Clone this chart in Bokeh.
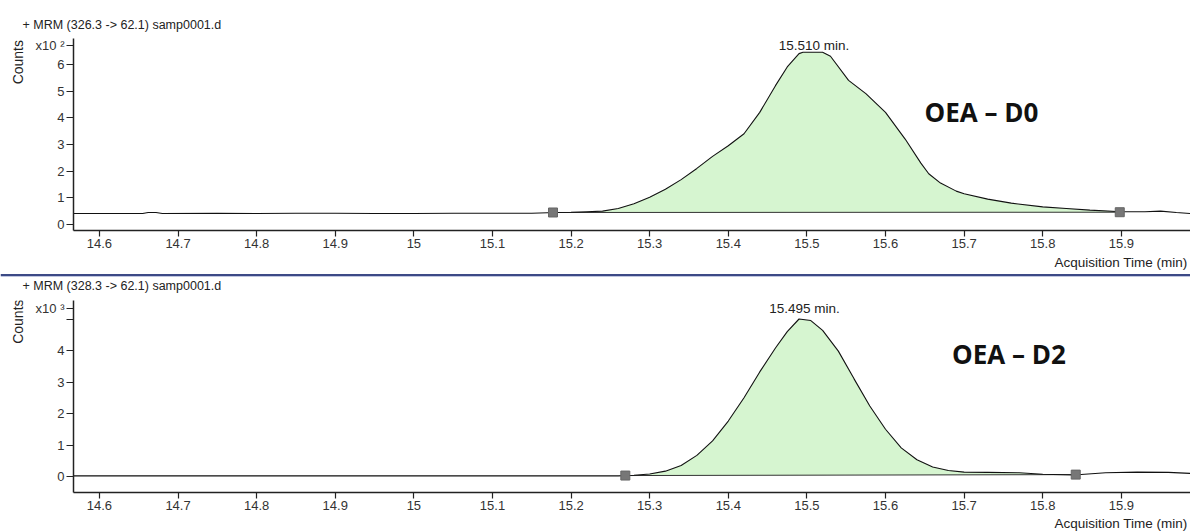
import numpy as np
from bokeh.plotting import figure
from bokeh.models import Range1d, FixedTicker, Label, Span
from bokeh.layouts import column, row
from bokeh.core.properties import value
from bokeh.embed import file_html
from bokeh.resources import INLINE

# ---------------- data ----------------
x_ticks = [14.6, 14.7, 14.8, 14.9, 15.0, 15.1, 15.2, 15.3, 15.4, 15.5, 15.6, 15.7, 15.8, 15.9]
x_tick_labels = ["14.6", "14.7", "14.8", "14.9", "15", "15.1", "15.2", "15.3", "15.4", "15.5",
                 "15.6", "15.7", "15.8", "15.9"]

# Panel 1: MRM (326.3 -> 62.1), counts x10^2
d0_header = "+ MRM (326.3 -> 62.1) samp0001.d"
d0_yticks = [0, 1, 2, 3, 4, 5, 6, 6.70]
d0_ytick_labels = ["0", "1", "2", "3", "4", "5", "6", "x10 ²"]
d0_time = [14.567, 14.62, 14.655, 14.662, 14.672, 14.68, 14.75, 14.8, 14.85, 14.9, 14.95, 15.0,
           15.05, 15.1, 15.15, 15.18, 15.2, 15.22, 15.24, 15.26, 15.28, 15.3, 15.32, 15.34, 15.36,
           15.38, 15.4, 15.42, 15.44, 15.46, 15.475, 15.49, 15.495, 15.52, 15.53, 15.553, 15.575,
           15.6, 15.625, 15.645, 15.655, 15.67, 15.69, 15.7, 15.73, 15.76, 15.8, 15.83, 15.86,
           15.9, 15.93, 15.95, 15.97, 15.988]
d0_counts = [0.41, 0.41, 0.41, 0.45, 0.45, 0.41, 0.42, 0.41, 0.42, 0.42, 0.41, 0.41,
             0.42, 0.42, 0.42, 0.45, 0.46, 0.48, 0.50, 0.60, 0.78, 1.02, 1.32, 1.68, 2.10,
             2.55, 2.95, 3.40, 4.20, 5.20, 5.90, 6.40, 6.45, 6.45, 6.30, 5.40, 4.90,
             4.20, 3.20, 2.30, 1.90, 1.55, 1.25, 1.15, 0.95, 0.80, 0.66, 0.60, 0.54,
             0.48, 0.48, 0.50, 0.45, 0.41]
d0_marker_time = [15.177, 15.898]
d0_marker_counts = [0.45, 0.46]
d0_peak_time = 15.509
d0_peak_label_y = 6.72
d0_peak_label = "15.510 min."
d0_name = "OEA – D0"

# Panel 2: MRM (328.3 -> 62.1), counts x10^3
d2_header = "+ MRM (328.3 -> 62.1) samp0001.d"
d2_yticks = [0, 1, 2, 3, 4, 5, 5.33]
d2_ytick_labels = ["0", "1", "2", "3", "4", "", "x10 ³"]
d2_time = [14.567, 14.7, 14.9, 15.1, 15.26, 15.28, 15.30, 15.32, 15.34, 15.36, 15.38, 15.40, 15.42,
           15.44, 15.46, 15.475, 15.49, 15.505, 15.52, 15.54, 15.56, 15.58, 15.60, 15.62, 15.64,
           15.66, 15.68, 15.70, 15.73, 15.77, 15.80, 15.84, 15.88, 15.92, 15.96, 15.988]
d2_counts = [0.02, 0.02, 0.02, 0.02, 0.02, 0.04, 0.08, 0.17, 0.35, 0.67, 1.13, 1.76, 2.50,
             3.32, 4.08, 4.60, 5.00, 4.95, 4.64, 3.98, 3.10, 2.24, 1.50, 0.91, 0.53,
             0.30, 0.19, 0.14, 0.13, 0.12, 0.07, 0.05, 0.12, 0.14, 0.13, 0.10]
d2_marker_time = [15.269, 15.842]
d2_marker_counts = [0.03, 0.06]
d2_peak_time = 15.497
d2_peak_label_y = 5.33
d2_peak_label = "15.495 min."
d2_name = "OEA – D2"

x_label = "Acquisition Time (min)"
y_label = "Counts"

FONT = "Liberation Sans"
FILL = "#d6f5d0"
W = 1190
LEFT_W = 30
AXIS_X = 73


def text_strip(width, height):
    """A plain canvas in pixel units (y measured from top) for texts around the plots."""
    s = figure(width=width, height=height, x_range=Range1d(0, width), y_range=Range1d(height, 0),
               x_axis_type=None, y_axis_type=None, output_backend="svg", toolbar_location=None,
               min_border_left=0, min_border_right=0, min_border_top=0, min_border_bottom=0)
    s.outline_line_color = None
    s.grid.visible = False
    s.background_fill_color = "white"
    s.border_fill_color = "white"
    return s


def put(s, x, y, text, size="12.5px", align="left", angle=0.0, bold=False, font=FONT,
        color="#222222"):
    s.text(x=[x], y=[y], text=[text], text_align=align, text_baseline="middle",
           angle=angle, text_font=value(font), text_font_size=value(size), text_color=color,
           text_font_style="bold" if bold else "normal")


def panel(height, y0, y1, yticks, ylabels, border_top, border_bottom):
    p = figure(width=W - LEFT_W, height=height, x_range=Range1d(14.567, 15.988),
               y_range=Range1d(y0, y1), output_backend="svg", toolbar_location=None,
               min_border_left=AXIS_X - LEFT_W, min_border_right=0,
               min_border_top=border_top, min_border_bottom=border_bottom)
    p.outline_line_color = None
    p.grid.visible = False
    p.background_fill_color = "white"
    p.border_fill_color = "white"
    for ax in (p.xaxis[0], p.yaxis[0]):
        ax.axis_line_color = "#222222"
        ax.axis_line_width = 1.5
        ax.major_tick_line_color = "#222222"
        ax.major_tick_line_width = 1.2
        ax.major_tick_in = 0
        ax.minor_tick_line_color = None
        ax.major_label_text_font = FONT
        ax.major_label_text_font_size = "13px"
        ax.major_label_text_color = "#333333"
    p.xaxis[0].ticker = FixedTicker(ticks=x_ticks)
    p.xaxis[0].major_label_overrides = {t: l for t, l in zip(x_ticks, x_tick_labels)}
    p.xaxis[0].major_tick_out = 6
    p.xaxis[0].major_label_standoff = 2
    p.yaxis[0].ticker = FixedTicker(ticks=yticks)
    p.yaxis[0].major_label_overrides = {t: l for t, l in zip(yticks, ylabels)}
    p.yaxis[0].major_tick_out = 7
    p.yaxis[0].major_label_standoff = 2
    return p


def draw(p, t, c, mt, mc, ppos, plabel_y, plabel, name, name_x, name_y):
    t = np.array(t)
    c = np.array(c)
    mask = (t >= mt[0]) & (t <= mt[1])
    xs = np.concatenate([[mt[0]], t[mask], [mt[1]]])
    ys = np.interp(xs, t, c)
    base = np.interp(xs, mt, mc)
    p.varea(x=xs, y1=base, y2=ys, fill_color=FILL)
    p.line(x=mt, y=mc, line_color="#333333", line_width=1)
    p.line(x=t, y=c, line_color="#111111", line_width=1.1)
    p.scatter(x=mt, y=mc, marker="square", size=9, fill_color="#777777", line_color="#666666")
    p.add_layout(Label(x=ppos, y=plabel_y, text=plabel, text_align="center",
                       text_baseline="middle", text_font=FONT, text_font_size="13.5px",
                       text_color="#222222"))
    p.add_layout(Label(x=name_x, y=name_y, text=name, text_align="center",
                       text_baseline="middle", text_font="Open Sans", text_font_size="26px",
                       text_font_style="bold", text_color="#111111"))


# ---------------- top panel (page y 0 .. 253) ----------------
hdr1 = text_strip(W, 34)
put(hdr1, 22, 24, d0_header)

left1 = text_strip(LEFT_W, 219)
put(left1, 17, 27, y_label, size="14px", align="center", angle=np.pi / 2)

top = panel(219, -(230 - 224) / 26.7, (224 - 38) / 26.7, d0_yticks, d0_ytick_labels, 4, 23)
draw(top, d0_time, d0_counts, d0_marker_time, d0_marker_counts, d0_peak_time, d0_peak_label_y,
     d0_peak_label, d0_name, 15.722, 4.2)

# ---------------- middle strip (page y 253 .. 296) ----------------
mid = text_strip(W, 43)
put(mid, 1187, 8.5, x_label, size="13.5px", align="right")
mid.add_layout(Span(location=21.5, dimension="width", line_color="#3c4a86", line_width=2))
mid.add_layout(Span(location=23, dimension="width", line_color="#c0c6e0", line_width=1))
put(mid, 22, 32, d2_header)

# ---------------- bottom panel (page y 296 .. 514) ----------------
left2 = text_strip(LEFT_W, 218)
put(left2, 17, 24, y_label, size="14px", align="center", angle=np.pi / 2)

bottom = panel(218, -(492 - 476) / 31.5, (476 - 300) / 31.5, d2_yticks, d2_ytick_labels, 4, 22)
draw(bottom, d2_time, d2_counts, d2_marker_time, d2_marker_counts, d2_peak_time, d2_peak_label_y,
     d2_peak_label, d2_name, 15.757, 3.9)

foot = text_strip(W, 17)
put(foot, 1187, 8.5, x_label, size="13.5px", align="right")

layout = column(hdr1, row(left1, top, spacing=0), mid, row(left2, bottom, spacing=0), foot,
                spacing=0)
open("out.html", "w").write(file_html(layout, INLINE))
